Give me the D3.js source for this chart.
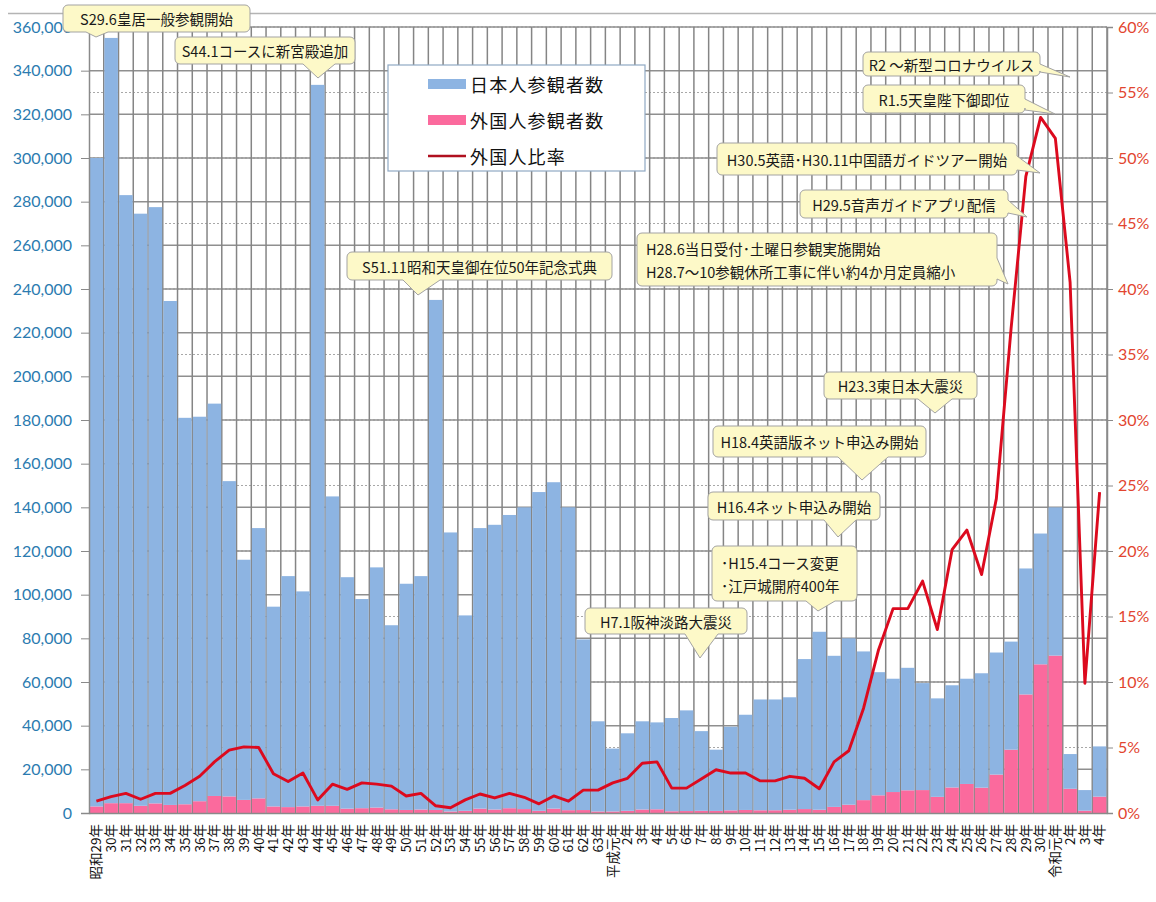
<!DOCTYPE html>
<html>
<head>
<meta charset="utf-8">
<script src="https://cdn.jsdelivr.net/npm/d3@7"></script>
<style>
  body { margin: 0; background: #fff; }
  svg { display: block; }
</style>
</head>
<body>
<div id="container"></div>
<script>
// categories (年度)
const years = [
  "昭和29年","30年","31年","32年","33年","34年","35年","36年","37年","38年",
  "39年","40年","41年","42年","43年","44年","45年","46年","47年","48年",
  "49年","50年","51年","52年","53年","54年","55年","56年","57年","58年",
  "59年","60年","61年","62年","63年",
  "平成元年","2年","3年","4年","5年","6年","7年","8年","9年","10年",
  "11年","12年","13年","14年","15年","16年","17年","18年","19年","20年",
  "21年","22年","23年","24年","25年","26年","27年","28年","29年","30年",
  "令和元年","2年","3年","4年"
];

// 日本人参観者数
const japanese = [
  297000,350500,278500,271200,273100,230800,177000,176100,179700,144400,
  110000,123800,91500,105800,98500,330200,141700,106000,95800,110000,
  84300,103600,106900,233600,127800,89500,128500,130400,134300,138200,
  146000,149500,138700,78150,41300,
  28800,35500,40400,39800,42700,46100,36500,28050,38300,43600,
  50750,50750,51500,68700,81500,69200,76200,68100,56400,51900,
  56100,49000,45100,46800,48200,52400,55900,49500,57700,59900,
  67900,15900,9450,23000
];

// 外国人参観者数
const foreign = [
  3000,4500,4500,3300,4400,3700,4000,5400,7800,7600,
  6000,6700,3000,2700,3000,3300,3300,2000,2200,2500,
  1700,1400,1600,1400,700,1000,2000,1600,2200,1800,
  1000,2000,1300,1350,700,
  700,1000,1600,1700,800,900,1000,950,1200,1400,
  1250,1250,1500,1800,1500,2800,3800,5900,8100,9600,
  10400,10500,7400,11700,13300,11600,17600,29000,54300,68100,
  72100,11100,1050,7500
];

// 外国人比率 (%)
const ratio = [
  0.9,1.25,1.5,1.05,1.5,1.5,2.1,2.8,3.9,4.8,
  5.05,5.0,3.0,2.4,3.05,1.0,2.2,1.8,2.3,2.2,
  2.05,1.3,1.5,0.55,0.4,1.0,1.45,1.15,1.5,1.2,
  0.7,1.3,0.9,1.75,1.75,
  2.3,2.65,3.8,3.9,1.9,1.9,2.6,3.3,3.05,3.05,
  2.45,2.45,2.8,2.65,1.85,3.9,4.75,8.0,12.4,15.6,
  15.6,17.7,14.0,20.1,21.6,18.2,24.0,37.0,48.6,53.1,
  51.5,40.5,9.9,24.5
];

// axis ticks
const countTicks = [0,20000,40000,60000,80000,100000,120000,140000,160000,180000,
  200000,220000,240000,260000,280000,300000,320000,340000,360000];
const rateTicks = [0,5,10,15,20,25,30,35,40,45,50,55,60];

// callouts
const notes = [
  { lines: ["S29.6皇居一般参観開始"], box: [63, 5, 187, 27], side: "bottom", base: [86, 108], tip: [96, 37] },
  { lines: ["S44.1コースに新宮殿追加"], box: [175, 37, 180, 27], side: "bottom", base: [303, 335], tip: [318, 78] },
  { lines: ["S51.11昭和天皇御在位50年記念式典"], box: [347, 252, 265, 28], side: "bottom", base: [403, 440], tip: [418, 295] },
  { lines: ["H7.1阪神淡路大震災"], box: [585, 608, 162, 26], side: "bottom", base: [685, 718], tip: [700, 658] },
  { lines: ["･H15.4コース変更", "･江戸城開府400年"], box: [712, 546, 145, 55], side: "bottom", base: [806, 835], tip: [818, 611], align: "start" },
  { lines: ["H16.4ネット申込み開始"], box: [708, 492, 172, 28], side: "bottom", base: [824, 856], tip: [838, 537] },
  { lines: ["H18.4英語版ネット申込み開始"], box: [713, 426, 213, 31], side: "bottom", base: [838, 888], tip: [862, 480] },
  { lines: ["H23.3東日本大震災"], box: [824, 372, 153, 27], side: "bottom", base: [918, 952], tip: [935, 413] },
  { lines: ["H28.6当日受付･土曜日参観実施開始", "H28.7～10参観休所工事に伴い約4か月定員縮小"], box: [637, 233, 360, 53], side: "right", base: [258, 279], tip: [1008, 284], align: "start" },
  { lines: ["H29.5音声ガイドアプリ配信"], box: [800, 190, 208, 28], side: "right", base: [200, 213], tip: [1027, 217] },
  { lines: ["H30.5英語･H30.11中国語ガイドツアー開始"], box: [717, 143, 300, 32], side: "right", base: [156, 170], tip: [1040, 173] },
  { lines: ["R1.5天皇陛下御即位"], box: [863, 85, 162, 28], side: "right", base: [99, 110], tip: [1055, 114] },
  { lines: ["R2 ～新型コロナウイルス"], box: [863, 52, 177, 24], side: "right", base: [64, 72], tip: [1070, 77] }
];

const blue = "#8db4e2", pink = "#fb6a9d", red = "#dc0a1e";
const jpFont = "'Noto Sans CJK JP', 'Noto Sans', sans-serif";

const margin = { left: 89, right: 49, top: 27, bottom: 89 };
const width = 1156 - margin.left - margin.right;
const height = 902 - margin.top - margin.bottom;

const x = d3.scaleBand()
  .domain(d3.range(years.length))
  .range([0, width])
  .paddingInner(0.08)
  .paddingOuter(0.04);

const y = d3.scaleLinear().domain([0, 360000]).range([height, 0]);
const yR = d3.scaleLinear().domain([0, 60]).range([height, 0]);

const svg = d3.select("#container")
  .append("svg")
  .attr("width", 1156)
  .attr("height", 902);

// outer frame line at the top
svg.append("line")
  .attr("x1", 8).attr("x2", 1156)
  .attr("y1", 13.5).attr("y2", 13.5)
  .attr("stroke", "#b4b4b4").attr("stroke-width", 1.5);

const g = svg.append("g")
  .attr("transform", `translate(${margin.left},${margin.top})`);

// dotted gridlines of the right axis
g.append("g")
  .selectAll("line")
  .data(rateTicks.slice(1))
  .join("line")
  .attr("x1", 0).attr("x2", width)
  .attr("y1", d => yR(d)).attr("y2", d => yR(d))
  .attr("stroke", "#a8a8a8")
  .attr("stroke-width", 1.2)
  .attr("stroke-dasharray", "2,2");

// solid gridlines of the left axis
g.append("g")
  .selectAll("line")
  .data(countTicks.slice(1))
  .join("line")
  .attr("x1", 0).attr("x2", width)
  .attr("y1", d => y(d)).attr("y2", d => y(d))
  .attr("stroke", "#8f8f8f")
  .attr("stroke-width", 1.5);

// vertical gridlines between categories
g.append("g")
  .selectAll("line")
  .data(d3.range(1, years.length + 1))
  .join("line")
  .attr("x1", d => d * x.step()).attr("x2", d => d * x.step())
  .attr("y1", 0).attr("y2", height)
  .attr("stroke", "#858585")
  .attr("stroke-width", 1.5);

// stacked bars
const table = years.map((yr, i) => ({ i, foreign: foreign[i], japanese: japanese[i] }));
const stacked = d3.stack().keys(["foreign", "japanese"])(table);
const colors = { foreign: pink, japanese: blue };

g.append("g")
  .selectAll("g")
  .data(stacked)
  .join("g")
  .attr("fill", d => colors[d.key])
  .selectAll("rect")
  .data(d => d)
  .join("rect")
  .attr("x", d => x(d.data.i))
  .attr("width", x.bandwidth())
  .attr("y", d => y(d[1]))
  .attr("height", d => y(d[0]) - y(d[1]));

// ratio line
const line = d3.line()
  .x((d, i) => x(i) + x.bandwidth() / 2)
  .y(d => yR(d));

g.append("path")
  .datum(ratio)
  .attr("fill", "none")
  .attr("stroke", red)
  .attr("stroke-width", 2.9)
  .attr("stroke-linejoin", "round")
  .attr("d", line);

// left axis
const axL = g.append("g")
  .call(d3.axisLeft(y).tickValues(countTicks).tickFormat(d3.format(",")).tickSize(8).tickPadding(9));
axL.select(".domain").attr("stroke", "#8a8a8a").attr("stroke-width", 1.5);
axL.selectAll(".tick line").attr("stroke", "#8a8a8a");
axL.selectAll("text")
  .attr("fill", "#2b7bb0")
  .attr("font-family", "Lato, 'Noto Sans', sans-serif")
  .attr("font-size", 16);

// right axis
const axR = g.append("g")
  .attr("transform", `translate(${width},0)`)
  .call(d3.axisRight(yR).tickValues(rateTicks).tickFormat(d => d + "%").tickSize(6).tickPadding(5));
axR.select(".domain").attr("stroke", "#8a8a8a").attr("stroke-width", 1.5);
axR.selectAll(".tick line").attr("stroke", "#8a8a8a");
axR.selectAll("text")
  .attr("fill", "#e2452f")
  .attr("font-family", "Lato, 'Noto Sans', sans-serif")
  .attr("font-size", 16);

// bottom axis
const axB = g.append("g")
  .attr("transform", `translate(0,${height})`)
  .call(d3.axisBottom(x).tickFormat(i => years[i]).tickSize(0));
axB.select(".domain").attr("stroke", "#8a8a8a").attr("stroke-width", 1.5);
axB.selectAll("text")
  .attr("transform", "rotate(-90)")
  .attr("x", -11)
  .attr("y", 0)
  .attr("dy", "0.36em")
  .attr("text-anchor", "end")
  .attr("fill", "#111")
  .attr("font-family", jpFont)
  .attr("font-size", 13.5);

// callouts
function calloutPath(n) {
  const [x0, y0, w, h] = n.box, x1 = x0 + w, y1 = y0 + h, r = 5;
  const [b1, b2] = n.base, [tx, ty] = n.tip;
  const a = `A${r},${r} 0 0 1`;
  if (n.side === "bottom") {
    return `M${x0 + r},${y0}H${x1 - r}${a} ${x1},${y0 + r}V${y1 - r}${a} ${x1 - r},${y1}` +
      `H${b2}L${tx},${ty}L${b1},${y1}H${x0 + r}${a} ${x0},${y1 - r}V${y0 + r}${a} ${x0 + r},${y0}Z`;
  }
  return `M${x0 + r},${y0}H${x1 - r}${a} ${x1},${y0 + r}V${b1}L${tx},${ty}L${x1},${b2}` +
    `V${y1 - r}${a} ${x1 - r},${y1}H${x0 + r}${a} ${x0},${y1 - r}V${y0 + r}${a} ${x0 + r},${y0}Z`;
}

const callouts = svg.append("g")
  .selectAll("g")
  .data(notes)
  .join("g");

callouts.append("path")
  .attr("d", calloutPath)
  .attr("fill", "#fdf9c8")
  .attr("stroke", "#a3a3a3")
  .attr("stroke-width", 1);

callouts.each(function (n) {
  const [x0, y0, w, h] = n.box;
  const lh = 23;
  const start = n.align === "start";
  d3.select(this).selectAll("text")
    .data(n.lines)
    .join("text")
    .attr("x", start ? x0 + 9 : x0 + w / 2)
    .attr("y", (d, k) => y0 + h / 2 + (k - (n.lines.length - 1) / 2) * lh)
    .attr("dominant-baseline", "central")
    .attr("text-anchor", start ? "start" : "middle")
    .attr("font-family", jpFont)
    .attr("font-size", 14.5)
    .attr("fill", "#1a1a1a")
    .text(d => d);
});

// legend
const legend = svg.append("g").attr("transform", "translate(388,65)");
legend.append("rect")
  .attr("width", 257).attr("height", 106)
  .attr("fill", "#fff")
  .attr("stroke", "#8fa9c4")
  .attr("stroke-width", 1.2);

const legendItems = [
  { label: "日本人参観者数", type: "rect", color: blue },
  { label: "外国人参観者数", type: "rect", color: pink },
  { label: "外国人比率", type: "line", color: red }
];

const li = legend.selectAll(".legend-item")
  .data(legendItems)
  .join("g")
  .attr("class", "legend-item")
  .attr("transform", (d, i) => `translate(40,${19 + i * 36})`);

li.filter(d => d.type === "rect").append("rect")
  .attr("x", 0).attr("y", -5).attr("width", 38).attr("height", 10)
  .attr("fill", d => d.color);

li.filter(d => d.type === "line").append("line")
  .attr("x1", 0).attr("x2", 38)
  .attr("stroke", "#b0101f").attr("stroke-width", 2.5);

li.append("text")
  .attr("x", 42)
  .attr("dominant-baseline", "central")
  .attr("font-family", jpFont)
  .attr("font-size", 18)
  .attr("letter-spacing", 1.2)
  .attr("fill", "#111")
  .text(d => d.label);
</script>
</body>
</html>
